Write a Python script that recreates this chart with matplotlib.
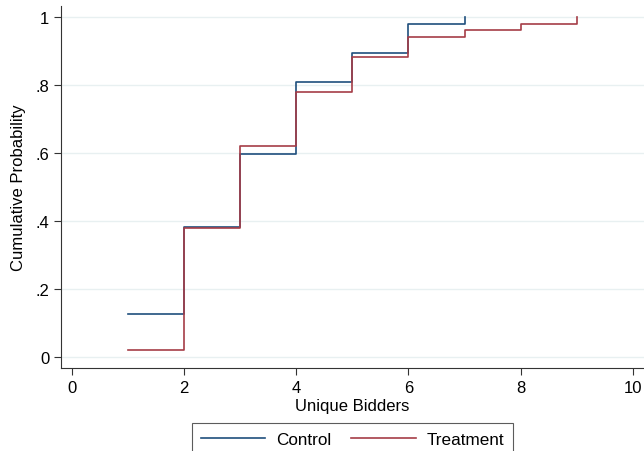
import matplotlib.pyplot as plt

# cumulative distribution of unique bidders
control_x = [1, 2, 3, 4, 5, 6, 7]
control_y = [0.128, 0.383, 0.596, 0.809, 0.894, 0.979, 1.0]
treatment_x = [1, 2, 3, 4, 5, 6, 7, 8, 9]
treatment_y = [0.02, 0.38, 0.62, 0.78, 0.882, 0.941, 0.961, 0.98, 1.0]

x_ticks = [0, 2, 4, 6, 8, 10]
y_ticks = [0, 0.2, 0.4, 0.6, 0.8, 1.0]
y_tick_labels = ["0", ".2", ".4", ".6", ".8", "1"]

plt.rcParams['font.family'] = ['Liberation Sans', 'DejaVu Sans']

fig = plt.figure(figsize=(6.44, 4.52), dpi=100)
ax = fig.add_axes([61 / 644, 1 - 369 / 452, 1 - 61 / 644, (369 - 7) / 452])

ax.step(control_x, control_y, where='post', color='#1f4f7d', lw=1.2, label='Control')
ax.step(treatment_x, treatment_y, where='post', color='#a53d47', lw=1.2, label='Treatment')

ax.set_xlim(-0.196, 10.2)
ax.set_ylim(-0.032, 1.032)
ax.set_xticks(x_ticks)
ax.set_yticks(y_ticks)
ax.set_yticklabels(y_tick_labels)
ax.tick_params(labelsize=12, length=5, width=0.8, color='#333333')
ax.grid(axis='y', color='#e8f0f1', lw=1)
ax.set_axisbelow(True)

for side in ['top', 'right']:
    ax.spines[side].set_visible(False)
for side in ['left', 'bottom']:
    ax.spines[side].set_color('#333333')
    ax.spines[side].set_linewidth(0.8)

ax.set_xlabel('Unique Bidders', fontsize=12, labelpad=2)
ax.set_ylabel('Cumulative Probability', fontsize=12, labelpad=7)

leg = fig.legend(loc='upper left', bbox_to_anchor=(192 / 644, 1 - 424 / 452),
                 ncol=2, fontsize=12.3, frameon=True, fancybox=False,
                 handlelength=3.8, columnspacing=1.2, handletextpad=0.6,
                 borderpad=0.5, borderaxespad=0)
leg.get_frame().set_edgecolor('#333333')
leg.get_frame().set_linewidth(0.8)

fig.savefig('out.png', dpi=100)
